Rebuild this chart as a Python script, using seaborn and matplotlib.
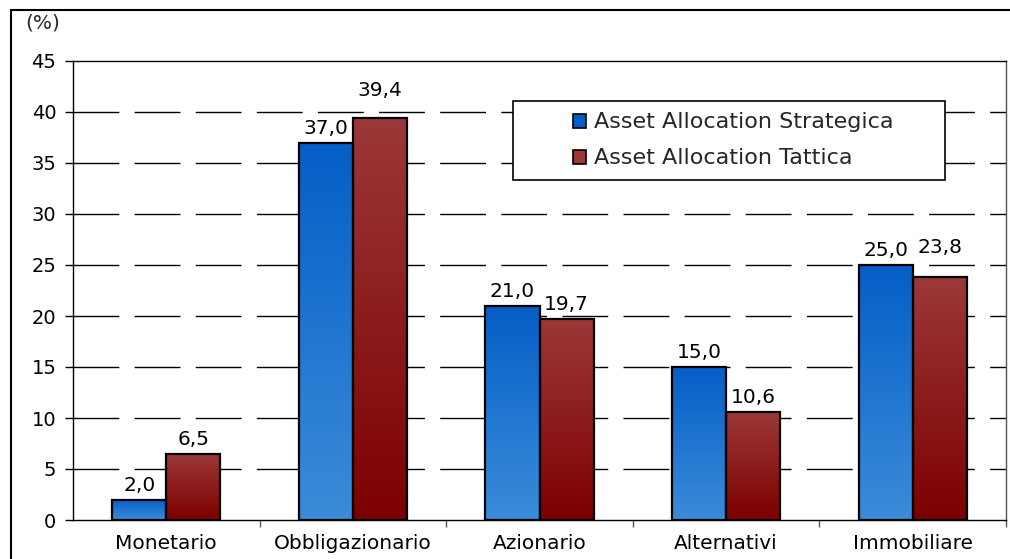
import numpy as np
import pandas as pd
import matplotlib
matplotlib.use("Agg")
import matplotlib.pyplot as plt
import seaborn as sns
from matplotlib.patches import Rectangle, Patch
from matplotlib.colors import LinearSegmentedColormap

categories = ["Monetario", "Obbligazionario", "Azionario", "Alternativi", "Immobiliare"]
series_names = ["Asset Allocation Strategica", "Asset Allocation Tattica"]
strategica = [2.0, 37.0, 21.0, 15.0, 25.0]
tattica = [6.5, 39.4, 19.7, 10.6, 23.8]
y_ticks = [0, 5, 10, 15, 20, 25, 30, 35, 40, 45]

df = pd.DataFrame({
    "categoria": categories * 2,
    "serie": [series_names[0]] * len(categories) + [series_names[1]] * len(categories),
    "valore": strategica + tattica,
})

sns.set_theme(style="white")
plt.rcParams["font.family"] = ["DejaVu Sans"]

fig = plt.figure(figsize=(10.10, 5.59), dpi=100)
ax = fig.add_axes([73 / 1010, 39 / 559, 933 / 1010, 459 / 559])

grad = {
    series_names[0]: ((0.02, 0.37, 0.78), (0.23, 0.55, 0.85)),   # top, bottom
    series_names[1]: ((0.61, 0.22, 0.22), (0.49, 0.0, 0.0)),
}
palette = {k: v[0] for k, v in grad.items()}

sns.barplot(data=df, x="categoria", y="valore", hue="serie", order=categories,
            hue_order=series_names, palette=palette, width=0.58, dodge=True,
            legend=False, ax=ax, zorder=3, edgecolor="black", linewidth=1.6)

ax.set_xlim(-0.5, len(categories) - 0.5)
ax.set_ylim(0, 45)

# extra lift (pixels) of a few value labels, as placed in the reference
label_lift = {(1, 1): 13, (1, 4): 15}

for si, (cont, name) in enumerate(zip(ax.containers, series_names)):
    top, bot = grad[name]
    cmap = LinearSegmentedColormap.from_list(name, [bot, top])
    g = np.linspace(0, 1, 256).reshape(-1, 1)
    for ci, bar in enumerate(cont):
        x, y0 = bar.get_x(), bar.get_y()
        w, h = bar.get_width(), bar.get_height()
        im = ax.imshow(g, cmap=cmap, origin="lower", aspect="auto",
                       extent=[x, x + w, y0, y0 + h], zorder=2.5)
        im.set_clip_path(bar)
        bar.set_facecolor("none")
        v = cont.datavalues[ci]
        lift_px = 9 + label_lift.get((si, ci), 0)
        ax.annotate(f"{v:.1f}".replace(".", ","), xy=(x + w / 2, y0 + h),
                    xytext=(0, lift_px * 0.72), textcoords="offset points",
                    ha="center", va="baseline", fontsize=14.5, color="black")

ax.set_xlim(-0.5, len(categories) - 0.5)
ax.set_ylim(0, 45)

ax.set_yticks(y_ticks)
ax.set_yticklabels([str(t) for t in y_ticks])
for t in y_ticks[1:-1]:
    ax.axhline(t, color="black", lw=1.0, ls=(0, (33, 11)), zorder=1)

ax.set_xticks(range(len(categories)))
ax.set_xticklabels(categories)
ax.set_xticks(np.arange(0.5, len(categories) - 0.4, 1.0), minor=True)
ax.tick_params(axis="x", which="major", length=0, pad=10, labelsize=14.5, colors="black")
ax.tick_params(axis="x", which="minor", length=5, width=1, color="#555555", bottom=True)
ax.tick_params(axis="y", which="major", length=6, width=1, pad=6, labelsize=14,
               left=True, color="black", labelcolor="black")
ax.set_xlabel("")
ax.set_ylabel("")

for s in ["left", "top", "bottom"]:
    ax.spines[s].set_color("black")
    ax.spines[s].set_linewidth(1.0)
ax.spines["right"].set_color("#555555")
ax.spines["right"].set_linewidth(1.0)

ax.add_patch(Rectangle((0.4716, 0.741), 0.4635, 0.172, transform=ax.transAxes,
                       facecolor="white", edgecolor="black", lw=1.2, zorder=6))
handles = [Patch(facecolor=grad[n][0], edgecolor="black", lw=1.2) for n in series_names]
leg = ax.legend(handles, series_names, loc="center left", bbox_to_anchor=(0.5358, 0.827),
                frameon=False, fontsize=16, handlelength=0.6, handleheight=0.6,
                handletextpad=0.35, labelspacing=0.72, borderpad=0, borderaxespad=0)
leg.set_zorder(7)

fig.text(25 / 1010, 1 - 23 / 559, "(%)", fontsize=14.5, va="center", ha="left")
fig.patches.append(Rectangle((11 / 1010, -0.1), 1.2, 1 - 10 / 559 + 0.1,
                             transform=fig.transFigure, fill=False, edgecolor="black",
                             lw=1.5, zorder=10))

fig.savefig("out.png", dpi=100)
